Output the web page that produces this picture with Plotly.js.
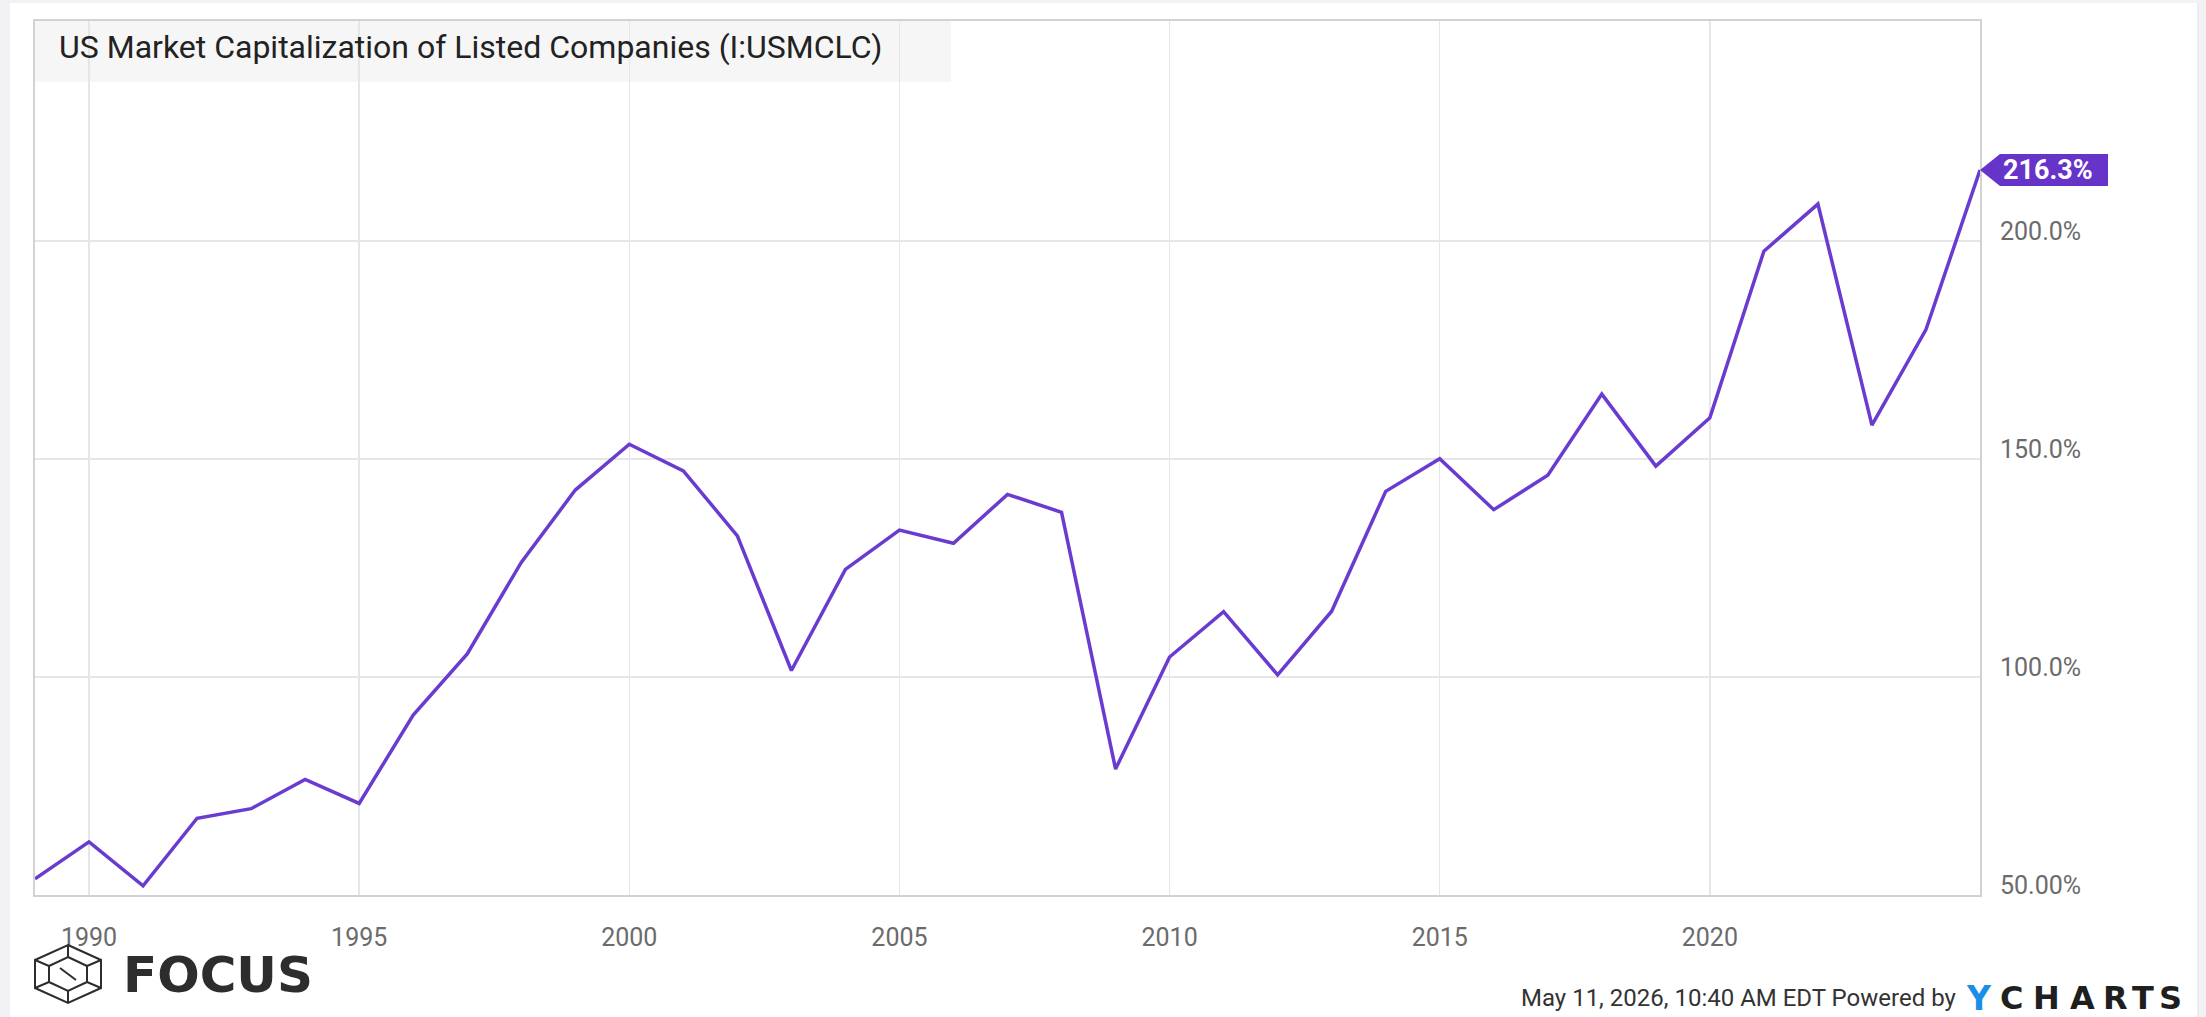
<!DOCTYPE html>
<html>
<head>
<meta charset="utf-8">
<script src="https://cdn.plot.ly/plotly-3.0.1.min.js"></script>
<style>
  html, body { margin: 0; padding: 0; background: #f2f2f4; }
  #chart { width: 2206px; height: 1017px; }
</style>
</head>
<body>
<div id="chart"></div>
<script>
// ---- data ----
const years = [1989, 1990, 1991, 1992, 1993, 1994, 1995, 1996, 1997, 1998, 1999,
               2000, 2001, 2002, 2003, 2004, 2005, 2006, 2007, 2008, 2009,
               2010, 2011, 2012, 2013, 2014, 2015, 2016, 2017, 2018, 2019,
               2020, 2021, 2022, 2023, 2024, 2025];
const marketCapPct = [53.7, 62.2, 52.1, 67.6, 69.8, 76.5, 71.0, 91.3, 105.3, 126.3, 142.9,
                      153.4, 147.3, 132.4, 101.5, 124.7, 133.7, 130.7, 141.9, 137.8, 78.9,
                      104.6, 115.0, 100.5, 115.1, 142.6, 150.1, 138.4, 146.3, 164.9, 148.4,
                      159.5, 197.7, 208.5, 157.8, 179.7, 216.3];
const xTickVals = [1990, 1995, 2000, 2005, 2010, 2015, 2020];
const xTickText = ['1990', '1995', '2000', '2005', '2010', '2015', '2020'];
const yTickVals = [50, 100, 150, 200];
const yTickText = ['50.00%', '100.0%', '150.0%', '200.0%'];
const chartTitle = 'US Market Capitalization of Listed Companies (I:USMCLC)';
const footerText = 'May 11, 2026, 10:40 AM EDT Powered by';
const brandY = 'Y';
const brandRest = ['C', 'H', 'A', 'R', 'T', 'S'];
const logoText = 'FOCUS';

// ---- layout geometry (pixels) ----
const W = 2206, H = 1017;
const L = 35, T = 21, R = 2206 - 1980, B = 1017 - 895;
const PW = W - L - R, PH = H - T - B;
const px2x = p => (p - L) / PW;
const px2y = p => (T + PH - p) / PH;

const purple = '#6a3bcf';
const labelPurple = '#6634c8';
const font = 'Roboto, "Open Sans", sans-serif';

const xRange = [years[0], years[years.length - 1]];
const yRange = [50, 250.5];
const lastX = years[years.length - 1];
const lastY = marketCapPct[marketCapPct.length - 1];
const lastXPaper = (lastX - xRange[0]) / (xRange[1] - xRange[0]);

const trace = {
  x: years,
  y: marketCapPct,
  type: 'scatter',
  mode: 'lines',
  line: { color: purple, width: 3.5 },
  cliponaxis: false,
  hoverinfo: 'skip',
  showlegend: false
};

const shapes = [
  // white panel
  { type: 'rect', xref: 'paper', yref: 'paper', layer: 'below',
    x0: px2x(10), x1: px2x(2198), y0: px2y(1017), y1: px2y(3),
    fillcolor: '#ffffff', line: { width: 0 } },
  // right edge line of the panel
  { type: 'line', xref: 'paper', yref: 'paper', layer: 'below',
    x0: px2x(2198), x1: px2x(2198), y0: px2y(1017), y1: px2y(3),
    line: { color: '#e2e2e6', width: 1 } },
  // title box
  { type: 'rect', xref: 'paper', yref: 'paper', layer: 'below',
    x0: px2x(35), x1: px2x(951), y0: px2y(82), y1: px2y(21),
    fillcolor: '#f6f6f6', line: { width: 0 } },
  // last-value label (arrow box) anchored to the last data point
  { type: 'path', xref: 'paper', yref: 'y', layer: 'above',
    xanchor: lastXPaper, yanchor: lastY, xsizemode: 'pixel', ysizemode: 'pixel',
    path: 'M 0 0 L 20 16 L 128 16 L 128 -16 L 20 -16 Z',
    fillcolor: labelPurple, line: { width: 0 } },
  // FOCUS logo icon (outer hexagon)
  { type: 'path', xref: 'paper', yref: 'paper', layer: 'above',
    xanchor: px2x(68), yanchor: px2y(974), xsizemode: 'pixel', ysizemode: 'pixel',
    path: 'M 0 29 L 33 14 L 33 -14 L 0 -29 L -33 -14 L -33 14 Z',
    fillcolor: 'rgba(0,0,0,0)', line: { color: '#2d2d2d', width: 2 } },
  // inner hexagon
  { type: 'path', xref: 'paper', yref: 'paper', layer: 'above',
    xanchor: px2x(68), yanchor: px2y(974), xsizemode: 'pixel', ysizemode: 'pixel',
    path: 'M 0 17 L 19 8 L 19 -8 L 0 -17 L -19 -8 L -19 8 Z',
    fillcolor: 'rgba(0,0,0,0)', line: { color: '#2d2d2d', width: 2 } },
  // chevrons / inner strokes
  { type: 'path', xref: 'paper', yref: 'paper', layer: 'above',
    xanchor: px2x(68), yanchor: px2y(974), xsizemode: 'pixel', ysizemode: 'pixel',
    path: 'M -8 6 L 8 -6 M 0 29 L 0 17 M 0 -29 L 0 -17 M 33 14 L 19 8 M -33 -14 L -19 -8 M 33 -14 L 19 -8 M -33 14 L -19 8',
    fillcolor: 'rgba(0,0,0,0)', line: { color: '#2d2d2d', width: 2 } }
];

const annotations = [
  { xref: 'paper', yref: 'paper', x: px2x(57), y: px2y(47),
    xanchor: 'left', yanchor: 'middle', showarrow: false,
    text: chartTitle, font: { family: font, size: 32, color: '#222222' } },
  { xref: 'paper', yref: 'y', x: lastXPaper, y: lastY, xanchor: 'left', yanchor: 'middle',
    xshift: 21, showarrow: false,
    text: lastY.toFixed(1) + '%',
    font: { family: font, size: 27, color: '#ffffff', weight: 'bold' } },
  { xref: 'paper', yref: 'paper', x: px2x(121), y: px2y(975),
    xanchor: 'left', yanchor: 'middle', showarrow: false,
    text: logoText,
    font: { family: '"DejaVu Sans", sans-serif', size: 50, color: '#2d2d2d', weight: 'bold' } },
  { xref: 'paper', yref: 'paper', x: px2x(1958), y: px2y(998),
    xanchor: 'right', yanchor: 'middle', showarrow: false,
    text: footerText, font: { family: font, size: 24, color: '#333333' } },
  { xref: 'paper', yref: 'paper', x: px2x(1979), y: px2y(998),
    xanchor: 'center', yanchor: 'middle', showarrow: false,
    text: brandY, font: { family: '"DejaVu Sans", sans-serif', size: 33, color: '#1b8fe6', weight: 'bold' } }
];
const brandCenters = [2011, 2046, 2082, 2115, 2143, 2170];
brandRest.forEach((ch, i) => {
  annotations.push({ xref: 'paper', yref: 'paper', x: px2x(brandCenters[i]), y: px2y(998),
    xanchor: 'center', yanchor: 'middle', showarrow: false,
    text: ch, font: { family: '"DejaVu Sans", sans-serif', size: 32, color: '#1f1f1f', weight: 'bold' } });
});

const layout = {
  width: W, height: H,
  margin: { l: L, r: R, t: T, b: B, pad: 0 },
  paper_bgcolor: '#f2f2f4',
  plot_bgcolor: 'rgba(0,0,0,0)',
  showlegend: false,
  xaxis: {
    range: xRange,
    tickvals: xTickVals, ticktext: xTickText,
    ticks: '', showgrid: true, gridcolor: '#e6e6e6', gridwidth: 1.5,
    showline: true, mirror: true, linecolor: '#d2d2d2', linewidth: 2,
    zeroline: false, ticklabelstandoff: 19,
    tickfont: { family: font, size: 25, color: '#6b6b6b' }
  },
  yaxis: {
    side: 'right',
    range: yRange,
    tickvals: yTickVals, ticktext: yTickText,
    ticks: '', showgrid: true, gridcolor: '#e6e6e6', gridwidth: 1.5,
    showline: true, mirror: true, linecolor: '#d2d2d2', linewidth: 2,
    zeroline: false, ticklabelstandoff: 13, ticklabelshift: -10,
    tickfont: { family: font, size: 25, color: '#6b6b6b' }
  },
  shapes: shapes,
  annotations: annotations
};

Plotly.newPlot('chart', [trace], layout, { displayModeBar: false, staticPlot: true });
</script>
</body>
</html>
